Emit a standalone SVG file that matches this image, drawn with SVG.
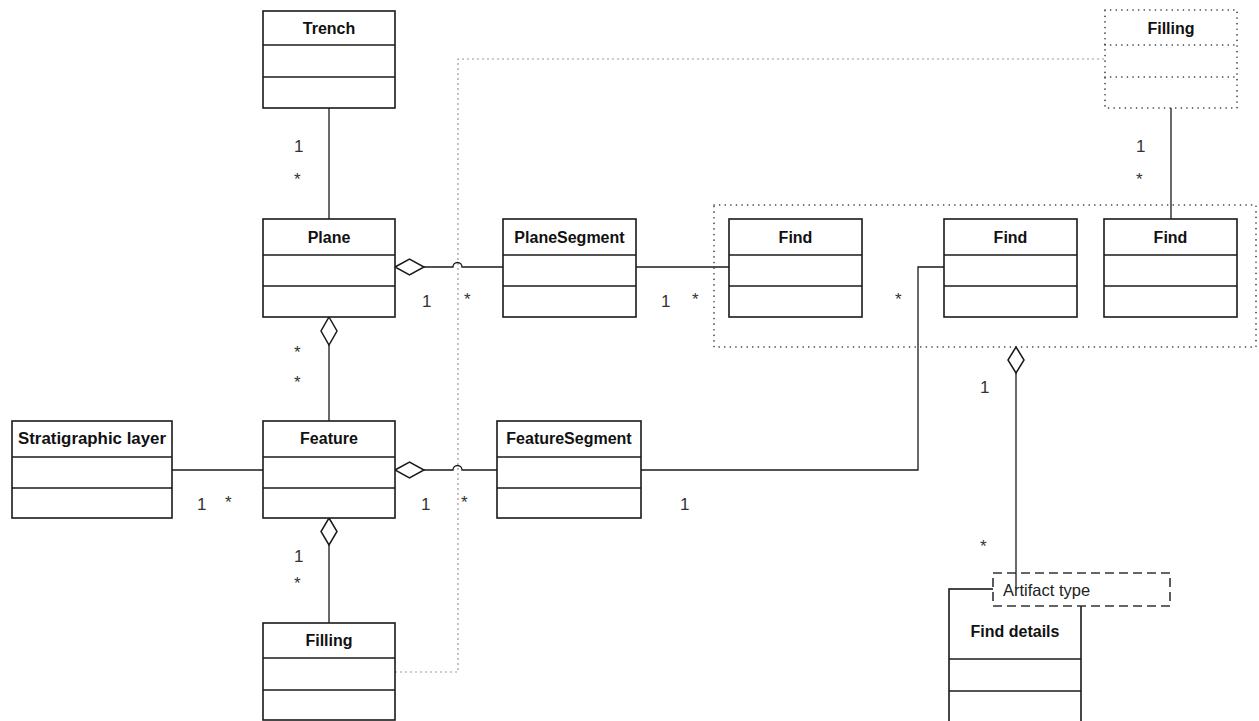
<svg xmlns="http://www.w3.org/2000/svg" width="1259" height="721" viewBox="0 0 1259 721">
<style>
.box{fill:#fff;stroke:#1a1a1a;stroke-width:1.6}
.div{stroke:#1a1a1a;stroke-width:1.6}
.title{font-family:"Liberation Sans",Arial,sans-serif;font-weight:bold;font-size:16px;fill:#111;text-anchor:middle}
.lbl{font-family:"Liberation Sans",Arial,sans-serif;font-size:17px;fill:#333}
.conn{fill:none;stroke:#1a1a1a;stroke-width:1.3}
.dia{fill:#fff;stroke:#1a1a1a;stroke-width:1.5}
.dotgray{fill:none;stroke:#999;stroke-width:1.2;stroke-dasharray:2 3}
.dotbox{fill:none;stroke:#333;stroke-width:1.6;stroke-dasharray:0.1 5.5;stroke-linecap:round}
.dash{fill:#fff;stroke:#333;stroke-width:1.6;stroke-dasharray:9 5}
</style>
<rect width="1259" height="721" fill="#fff"/>

<g id="connectors">
  <path class="dotgray" d="M395,672 H458 V59 H1105"/>
  <path class="conn" d="M329,108 V219"/>
  <path class="conn" d="M424,267 H453 A4.5,4.5 0 0 1 462,267 H503"/>
  <path class="conn" d="M636,267 H729"/>
  <path class="conn" d="M329,345 V421"/>
  <path class="conn" d="M172,470 H263"/>
  <path class="conn" d="M424,470 H453 A4.5,4.5 0 0 1 462,470 H497"/>
  <path class="conn" d="M641,470 H918 V267 H944"/>
  <path class="conn" d="M329,545 V623"/>
  <path class="conn" d="M1171,108 V219"/>
  <path class="conn" d="M1016,373 V573"/>
  <path class="dia" d="M395,267 L409.5,259 L424,267 L409.5,275 Z"/>
  <path class="dia" d="M329,317 L337,331 L329,345 L321,331 Z"/>
  <path class="dia" d="M395,470 L409.5,462 L424,470 L409.5,478 Z"/>
  <path class="dia" d="M329,518 L337,531.5 L329,545 L321,531.5 Z"/>
  <path class="dia" d="M1016,347 L1024,360 L1016,373 L1008,360 Z"/>
  <text class="lbl" x="294" y="152">1</text>
  <text class="lbl" x="294" y="185">*</text>
  <text class="lbl" x="422" y="307">1</text>
  <text class="lbl" x="464" y="305">*</text>
  <text class="lbl" x="661" y="307">1</text>
  <text class="lbl" x="692" y="305">*</text>
  <text class="lbl" x="895" y="305">*</text>
  <text class="lbl" x="294" y="358">*</text>
  <text class="lbl" x="294" y="388">*</text>
  <text class="lbl" x="197" y="510">1</text>
  <text class="lbl" x="225" y="508">*</text>
  <text class="lbl" x="421" y="510">1</text>
  <text class="lbl" x="461" y="508">*</text>
  <text class="lbl" x="680" y="510">1</text>
  <text class="lbl" x="294" y="562">1</text>
  <text class="lbl" x="294" y="589">*</text>
  <text class="lbl" x="1136" y="152">1</text>
  <text class="lbl" x="1136" y="185">*</text>
  <text class="lbl" x="980" y="393">1</text>
  <text class="lbl" x="980" y="552">*</text>
</g>

<g id="trench">
  <rect class="box" x="263" y="11" width="132" height="97"/>
  <line class="div" x1="263" y1="45" x2="395" y2="45"/>
  <line class="div" x1="263" y1="77" x2="395" y2="77"/>
  <text class="title" x="329" y="34">Trench</text>
</g>

<g id="plane">
  <rect class="box" x="263" y="219" width="132" height="98"/>
  <line class="div" x1="263" y1="255" x2="395" y2="255"/>
  <line class="div" x1="263" y1="286" x2="395" y2="286"/>
  <text class="title" x="329" y="243">Plane</text>
</g>

<g id="planesegment">
  <rect class="box" x="503" y="219" width="133" height="98"/>
  <line class="div" x1="503" y1="255" x2="636" y2="255"/>
  <line class="div" x1="503" y1="286" x2="636" y2="286"/>
  <text class="title" x="569.5" y="243">PlaneSegment</text>
</g>

<g id="find-group">
  <rect class="dotbox" x="714" y="205" width="542" height="142"/>
</g>

<g id="find1">
  <rect class="box" x="729" y="219" width="133" height="98"/>
  <line class="div" x1="729" y1="255" x2="862" y2="255"/>
  <line class="div" x1="729" y1="286" x2="862" y2="286"/>
  <text class="title" x="795.5" y="243">Find</text>
</g>

<g id="find2">
  <rect class="box" x="944" y="219" width="133" height="98"/>
  <line class="div" x1="944" y1="255" x2="1077" y2="255"/>
  <line class="div" x1="944" y1="286" x2="1077" y2="286"/>
  <text class="title" x="1010.5" y="243">Find</text>
</g>

<g id="find3">
  <rect class="box" x="1104" y="219" width="133" height="98"/>
  <line class="div" x1="1104" y1="255" x2="1237" y2="255"/>
  <line class="div" x1="1104" y1="286" x2="1237" y2="286"/>
  <text class="title" x="1170.5" y="243">Find</text>
</g>

<g id="filling-top">
  <rect class="dotbox" x="1105" y="10" width="132" height="98"/>
  <line class="dotbox" x1="1105" y1="45" x2="1237" y2="45"/>
  <line class="dotbox" x1="1105" y1="77" x2="1237" y2="77"/>
  <text class="title" x="1171" y="34">Filling</text>
</g>

<g id="stratigraphic-layer">
  <rect class="box" x="12" y="421" width="160" height="97"/>
  <line class="div" x1="12" y1="457" x2="172" y2="457"/>
  <line class="div" x1="12" y1="488" x2="172" y2="488"/>
  <text class="title" x="92" y="444" textLength="148" lengthAdjust="spacingAndGlyphs">Stratigraphic layer</text>
</g>

<g id="feature">
  <rect class="box" x="263" y="421" width="132" height="97"/>
  <line class="div" x1="263" y1="457" x2="395" y2="457"/>
  <line class="div" x1="263" y1="488" x2="395" y2="488"/>
  <text class="title" x="329" y="444">Feature</text>
</g>

<g id="featuresegment">
  <rect class="box" x="497" y="421" width="144" height="97"/>
  <line class="div" x1="497" y1="457" x2="641" y2="457"/>
  <line class="div" x1="497" y1="488" x2="641" y2="488"/>
  <text class="title" x="569" y="444">FeatureSegment</text>
</g>

<g id="filling">
  <rect class="box" x="263" y="623" width="132" height="97"/>
  <line class="div" x1="263" y1="658" x2="395" y2="658"/>
  <line class="div" x1="263" y1="690" x2="395" y2="690"/>
  <text class="title" x="329" y="646">Filling</text>
</g>

<g id="find-details">
  <rect class="box" x="949" y="589" width="132" height="136"/>
  <line class="div" x1="949" y1="659" x2="1081" y2="659"/>
  <line class="div" x1="949" y1="691" x2="1081" y2="691"/>
  <text class="title" x="1015" y="637">Find details</text>
</g>

<g id="artifact-type">
  <rect class="dash" x="993" y="573" width="177" height="33"/>
  <text class="lbl" x="1003" y="596" style="font-size:16.5px;fill:#222">Artifact type</text>
  <line class="conn" x1="1016" y1="573" x2="1016" y2="588"/>
</g>
</svg>
